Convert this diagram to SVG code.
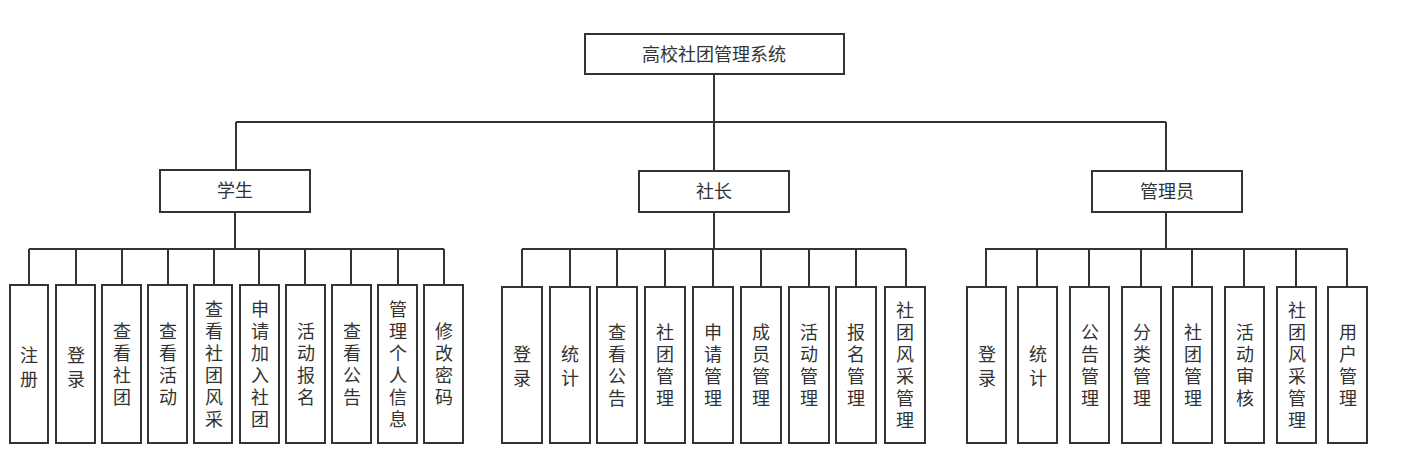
<svg xmlns="http://www.w3.org/2000/svg" width="1408" height="473" viewBox="0 0 1408 473">
<style>
rect{fill:#fff;stroke:#333;stroke-width:2}
.c path{fill:none;stroke:#333;stroke-width:2}
text{font-family:"Noto Sans CJK SC","Noto Sans",sans-serif;font-size:18px;fill:#333;text-anchor:middle}
</style>
<rect width="1408" height="473" style="stroke:none"/>
<g class="c">
<path d="M714 74V122M236 122H1166M236 122V170M714 122V171M1166 122V171"/>
<path d="M235 212V249M29 249H444M29 249V285M76 249V285M122 249V285M168 249V285M214 249V285M259 249V285M305 249V285M351 249V285M398 249V285M444 249V285"/>
<path d="M714 212V249M522 249H906M522 249V287M570 249V287M617 249V287M665 249V287M713 249V287M761 249V287M809 249V287M856 249V287M906 249V287"/>
<path d="M1166 212V249M985 249H1348M986 249V287M1037 249V287M1089 249V287M1141 249V287M1192 249V287M1244 249V287M1296 249V287M1347 249V287"/>
</g>
<g id="root"><rect x="585" y="34" width="259" height="40"/><text x="714" y="61">高校社团管理系统</text></g>
<g id="xs"><rect x="160" y="170" width="150" height="42"/><text x="235" y="197">学生</text></g>
<g id="sz"><rect x="639" y="171" width="150" height="41"/><text x="714" y="198">社长</text></g>
<g id="gly"><rect x="1092" y="171" width="150" height="41"/><text x="1167" y="198">管理员</text></g>
<g id="leaves1">
<rect x="10" y="285" width="38" height="158"/><text x="29"><tspan x="29" y="362">注</tspan><tspan x="29" dy="24">册</tspan></text>
<rect x="56" y="285" width="39" height="158"/><text><tspan x="76" y="362">登</tspan><tspan x="76" dy="24">录</tspan></text>
<rect x="102" y="285" width="39" height="158"/><text><tspan x="122" y="338">查</tspan><tspan x="122" dy="22">看</tspan><tspan x="122" dy="22">社</tspan><tspan x="122" dy="22">团</tspan></text>
<rect x="148" y="285" width="39" height="158"/><text><tspan x="168" y="338">查</tspan><tspan x="168" dy="22">看</tspan><tspan x="168" dy="22">活</tspan><tspan x="168" dy="22">动</tspan></text>
<rect x="194" y="285" width="38" height="158"/><text><tspan x="214" y="316">查</tspan><tspan x="214" dy="22">看</tspan><tspan x="214" dy="22">社</tspan><tspan x="214" dy="22">团</tspan><tspan x="214" dy="22">风</tspan><tspan x="214" dy="22">采</tspan></text>
<rect x="240" y="285" width="39" height="158"/><text><tspan x="260" y="316">申</tspan><tspan x="260" dy="22">请</tspan><tspan x="260" dy="22">加</tspan><tspan x="260" dy="22">入</tspan><tspan x="260" dy="22">社</tspan><tspan x="260" dy="22">团</tspan></text>
<rect x="286" y="285" width="39" height="158"/><text><tspan x="306" y="338">活</tspan><tspan x="306" dy="22">动</tspan><tspan x="306" dy="22">报</tspan><tspan x="306" dy="22">名</tspan></text>
<rect x="332" y="285" width="39" height="158"/><text><tspan x="352" y="338">查</tspan><tspan x="352" dy="22">看</tspan><tspan x="352" dy="22">公</tspan><tspan x="352" dy="22">告</tspan></text>
<rect x="378" y="285" width="39" height="158"/><text><tspan x="398" y="316">管</tspan><tspan x="398" dy="22">理</tspan><tspan x="398" dy="22">个</tspan><tspan x="398" dy="22">人</tspan><tspan x="398" dy="22">信</tspan><tspan x="398" dy="22">息</tspan></text>
<rect x="424" y="285" width="39" height="158"/><text><tspan x="444" y="338">修</tspan><tspan x="444" dy="22">改</tspan><tspan x="444" dy="22">密</tspan><tspan x="444" dy="22">码</tspan></text>
</g>
<g id="leaves2">
<rect x="502" y="287" width="40" height="156"/><text><tspan x="522" y="361">登</tspan><tspan x="522" dy="24">录</tspan></text>
<rect x="550" y="287" width="40" height="156"/><text><tspan x="570" y="361">统</tspan><tspan x="570" dy="24">计</tspan></text>
<rect x="597" y="287" width="40" height="156"/><text><tspan x="617" y="339">查</tspan><tspan x="617" dy="22">看</tspan><tspan x="617" dy="22">公</tspan><tspan x="617" dy="22">告</tspan></text>
<rect x="645" y="287" width="40" height="156"/><text><tspan x="665" y="339">社</tspan><tspan x="665" dy="22">团</tspan><tspan x="665" dy="22">管</tspan><tspan x="665" dy="22">理</tspan></text>
<rect x="693" y="287" width="40" height="156"/><text><tspan x="713" y="339">申</tspan><tspan x="713" dy="22">请</tspan><tspan x="713" dy="22">管</tspan><tspan x="713" dy="22">理</tspan></text>
<rect x="741" y="287" width="40" height="156"/><text><tspan x="761" y="339">成</tspan><tspan x="761" dy="22">员</tspan><tspan x="761" dy="22">管</tspan><tspan x="761" dy="22">理</tspan></text>
<rect x="789" y="287" width="40" height="156"/><text><tspan x="809" y="339">活</tspan><tspan x="809" dy="22">动</tspan><tspan x="809" dy="22">管</tspan><tspan x="809" dy="22">理</tspan></text>
<rect x="836" y="287" width="40" height="156"/><text><tspan x="856" y="339">报</tspan><tspan x="856" dy="22">名</tspan><tspan x="856" dy="22">管</tspan><tspan x="856" dy="22">理</tspan></text>
<rect x="885" y="287" width="40" height="156"/><text><tspan x="905" y="317">社</tspan><tspan x="905" dy="22">团</tspan><tspan x="905" dy="22">风</tspan><tspan x="905" dy="22">采</tspan><tspan x="905" dy="22">管</tspan><tspan x="905" dy="22">理</tspan></text>
</g>
<g id="leaves3">
<rect x="967" y="287" width="39" height="156"/><text><tspan x="987" y="361">登</tspan><tspan x="987" dy="24">录</tspan></text>
<rect x="1018" y="287" width="39" height="156"/><text><tspan x="1038" y="361">统</tspan><tspan x="1038" dy="24">计</tspan></text>
<rect x="1070" y="287" width="39" height="156"/><text><tspan x="1090" y="339">公</tspan><tspan x="1090" dy="22">告</tspan><tspan x="1090" dy="22">管</tspan><tspan x="1090" dy="22">理</tspan></text>
<rect x="1122" y="287" width="39" height="156"/><text><tspan x="1142" y="339">分</tspan><tspan x="1142" dy="22">类</tspan><tspan x="1142" dy="22">管</tspan><tspan x="1142" dy="22">理</tspan></text>
<rect x="1173" y="287" width="39" height="156"/><text><tspan x="1193" y="339">社</tspan><tspan x="1193" dy="22">团</tspan><tspan x="1193" dy="22">管</tspan><tspan x="1193" dy="22">理</tspan></text>
<rect x="1225" y="287" width="39" height="156"/><text><tspan x="1245" y="339">活</tspan><tspan x="1245" dy="22">动</tspan><tspan x="1245" dy="22">审</tspan><tspan x="1245" dy="22">核</tspan></text>
<rect x="1277" y="287" width="39" height="156"/><text><tspan x="1297" y="317">社</tspan><tspan x="1297" dy="22">团</tspan><tspan x="1297" dy="22">风</tspan><tspan x="1297" dy="22">采</tspan><tspan x="1297" dy="22">管</tspan><tspan x="1297" dy="22">理</tspan></text>
<rect x="1328" y="287" width="39" height="156"/><text><tspan x="1348" y="339">用</tspan><tspan x="1348" dy="22">户</tspan><tspan x="1348" dy="22">管</tspan><tspan x="1348" dy="22">理</tspan></text>
</g>
</svg>
